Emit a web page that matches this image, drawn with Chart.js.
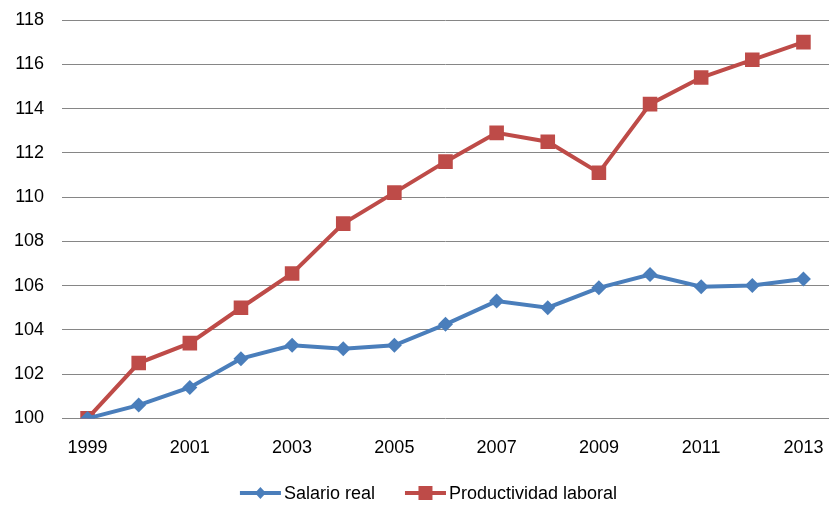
<!DOCTYPE html>
<html lang="en">
<head>
  <meta charset="UTF-8" />
  <title>Salario real vs Productividad laboral</title>
  <script src="https://cdn.jsdelivr.net/npm/chart.js"></script>
  <style>
    html, body {
      margin: 0;
      padding: 0;
      background: #fff;
    }
    #wrap {
      width: 829px;
      height: 505px;
    }
  </style>
</head>
<body>
  <div id="wrap"><canvas id="chart" width="829" height="505"></canvas></div>
  <script>
  const years = ["1999", "2000", "2001", "2002", "2003", "2004", "2005", "2006", "2007", "2008", "2009", "2010", "2011", "2012", "2013"];
  const salarioReal = [100, 100.6, 101.4, 102.7, 103.3, 103.15, 103.3, 104.25, 105.3, 105.0, 105.9, 106.5, 105.95, 106.0, 106.3];
  const productividad = [100, 102.5, 103.4, 105.0, 106.55, 108.8, 110.2, 111.6, 112.9, 112.5, 111.1, 114.2, 115.4, 116.2, 117.0];
  const yTicks = [100, 102, 104, 106, 108, 110, 112, 114, 116, 118];

  const blue = '#4a7ebb';
  const red = '#be4b48';
  const font = '"Liberation Sans", Arial, sans-serif';

  // legend drawn by hand: line + marker + label, like the Excel one
  const bottomLegend = {
    id: 'bottomLegend',
    afterDraw(chart) {
      const c = chart.ctx;
      const items = chart.data.datasets;
      c.save();
      c.font = '18px ' + font;
      c.textBaseline = 'middle';
      const lineW = 41, textGap = 3, itemGap = 30;
      const widths = items.map(ds => lineW + textGap + c.measureText(ds.label).width);
      const total = widths.reduce((a, b) => a + b, 0) + itemGap * (items.length - 1);
      let x = 428.5 - total / 2;
      const y = 493;
      items.forEach((ds, i) => {
        c.strokeStyle = ds.borderColor;
        c.fillStyle = ds.borderColor;
        c.lineWidth = 4;
        c.beginPath();
        c.moveTo(x, y);
        c.lineTo(x + lineW, y);
        c.stroke();
        const mx = x + lineW / 2;
        c.beginPath();
        if (ds.pointStyle === 'rectRot') {
          c.moveTo(mx, y - 6);
          c.lineTo(mx + 5.5, y);
          c.lineTo(mx, y + 6);
          c.lineTo(mx - 5.5, y);
        } else {
          c.rect(mx - 7, y - 7, 14, 14);
        }
        c.fill();
        c.fillStyle = '#000';
        c.fillText(ds.label, x + lineW + textGap, y + 1);
        x += widths[i] + itemGap;
      });
      c.restore();
    }
  };

  const ctx = document.getElementById('chart').getContext('2d');
  new Chart(ctx, {
    type: 'line',
    data: {
      labels: years,
      datasets: [{
        label: 'Salario real',
        data: salarioReal,
        borderColor: blue,
        backgroundColor: blue,
        borderWidth: 4,
        pointStyle: 'rectRot',
        pointRadius: 7.5,
        pointBorderWidth: 0,
        tension: 0
      }, {
        label: 'Productividad laboral',
        data: productividad,
        borderColor: red,
        backgroundColor: red,
        borderWidth: 4,
        pointStyle: 'rect',
        pointRadius: 10.3,
        pointBorderWidth: 0,
        tension: 0
      }]
    },
    options: {
      responsive: false,
      animation: false,
      layout: {
        autoPadding: false,
        padding: { left: 0, right: 0, top: 20, bottom: 35 }
      },
      scales: {
        x: {
          offset: true,
          grid: { display: false },
          border: { display: false },
          ticks: {
            autoSkip: false,
            maxRotation: 0,
            color: '#000',
            font: { family: font, size: 18 },
            padding: 11,
            callback: (v, i) => (i % 2 === 0 ? years[i] : '')
          },
          afterFit: axis => {
            axis.paddingLeft = 0;
            axis.paddingRight = 0;
          }
        },
        y: {
          min: 100,
          max: 118,
          afterBuildTicks: axis => {
            axis.ticks = yTicks.map(v => ({ value: v }));
          },
          afterFit: axis => {
            axis.width = 62;
            axis.paddingTop = 0;
            axis.paddingBottom = 0;
          },
          grid: {
            color: '#868686',
            lineWidth: 1,
            drawTicks: false
          },
          border: { display: false },
          ticks: {
            color: '#000',
            font: { family: font, size: 18 },
            padding: 18
          }
        }
      },
      plugins: {
        tooltip: { enabled: false },
        legend: { display: false }
      }
    },
    plugins: [bottomLegend]
  });
  </script>
</body>
</html>
